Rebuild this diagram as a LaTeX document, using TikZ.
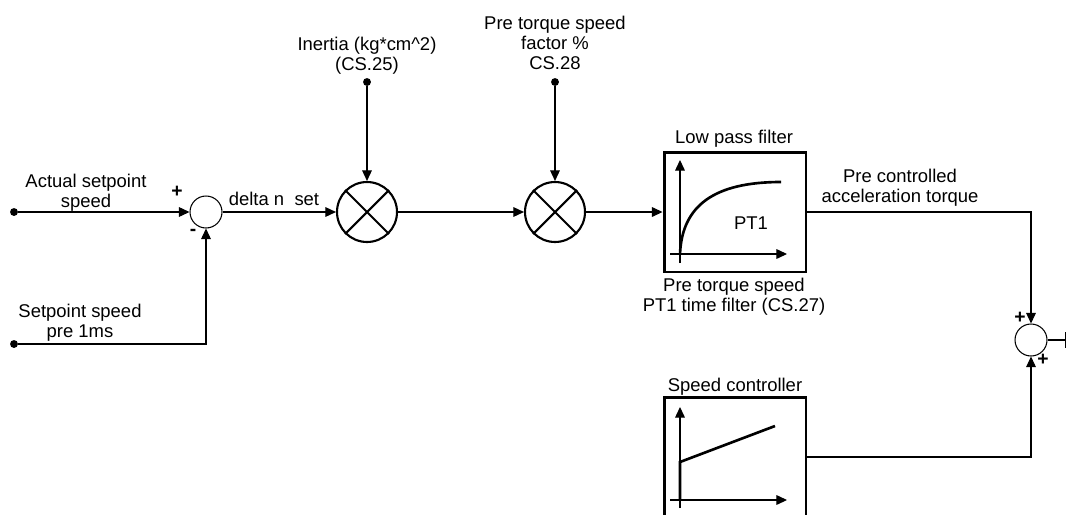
\documentclass[tikz,border=0pt]{standalone}
\usepackage{fontspec}
\setmainfont{Liberation Sans}
\usetikzlibrary{arrows.meta}

\begin{document}
\begin{tikzpicture}[x=0.02cm, y=-0.02cm,
		font=\fontsize{10.5}{11.5}\selectfont,
		line width=0.6pt,
		sig/.style={-{Triangle[length=6pt, width=5.5pt]}},
		sumjn/.style={draw, circle, minimum size=0.64cm, inner sep=0pt},
		mult/.style={draw, circle, line width=1.2pt, minimum size=1.2cm, inner sep=0pt},
		blockbox/.style={draw, line width=1.7pt, minimum width=2.84cm, minimum height=2.4cm, inner sep=0pt},
		pin/.style={circle, fill, minimum size=4.5pt, inner sep=0pt},
		sgn/.style={font=\fontsize{11}{11}\bfseries, inner sep=0pt},
		lbl/.style={align=center, inner sep=0pt},
		curve/.style={line width=1.5pt}]
		\useasboundingbox (0,0) rectangle (1067,514);

		\node[pin] (inA) at (14,212) {};
		\node[pin] (inB) at (14,344) {};
		\node[sumjn] (s1) at (206,212) {};
		\node[mult] (m1) at (367,212) {};
		\node[mult] (m2) at (555,212) {};
		\node[pin] (pJ) at (367,82) {};
		\node[pin] (pK) at (555,82) {};
		\node[blockbox] (pt) at (735,212) {};
		\node[blockbox] (sc) at (735,457) {};
		\node[sumjn] (s2) at (1031,340) {};
		\coordinate (out) at (1066,340);

		\draw[line width=1.2pt] (m1.north west) -- (m1.south east) (m1.north east) -- (m1.south west);
		\draw[line width=1.2pt] (m2.north west) -- (m2.south east) (m2.north east) -- (m2.south west);

		\draw[sig] (inA) -- (s1);
		\draw[sig] (inB) -| (s1);
		\draw[sig] (s1) -- (m1);
		\draw[sig] (pJ) -- (m1);
		\draw[sig] (m1) -- (m2);
		\draw[sig] (pK) -- (m2);
		\draw[sig] (m2) -- (pt);
		\draw[sig] (pt) -| (s2);
		\draw[sig] (sc) -| (s2);
		\draw[-{Bar[width=9pt]}] (s2) -- (out);

		\draw[sig] (680,263) -- (680,160);
		\draw[sig] (670,254) -- (787,254);
		\draw[curve] (680,254) .. controls (682,205) and (715,182) .. (781,182);
		\node (tT) at (751,223) {PT1};

		\draw[sig] (680,508) -- (680,407);
		\draw[sig] (670,500) -- (787,500);
		\draw[curve] (680,500) -- (680,462) -- (775,426);

		\node[lbl] (tA) at (86,193) {Actual setpoint\\speed};
		\node[lbl] (tB) at (80,323) {Setpoint speed\\pre 1ms};
		\node (tD) at (274,199) {delta n\ \ set};
		\node[lbl] (tJ) at (367,56) {Inertia (kg*cm\textasciicircum 2)\\(CS.25)};
		\node[lbl] (tK) at (555,43) {Pre torque speed\\factor \%\\CS.28};
		\node (tL) at (734,139) {Low pass filter};
		\node[lbl] (tP) at (734,297) {Pre torque speed\\PT1 time filter (CS.27)};
		\node[lbl] (tC) at (900,188) {Pre controlled\\acceleration torque};
		\node (tS) at (735,387) {Speed controller};

		\node[sgn] (p1) at (177,192) {+};
		\node[sgn] (n1) at (193,232) {-};
		\node[sgn] (p2) at (1020,318) {+};
		\node[sgn] (p3) at (1043,360) {+};
	\end{tikzpicture}
\end{document}
